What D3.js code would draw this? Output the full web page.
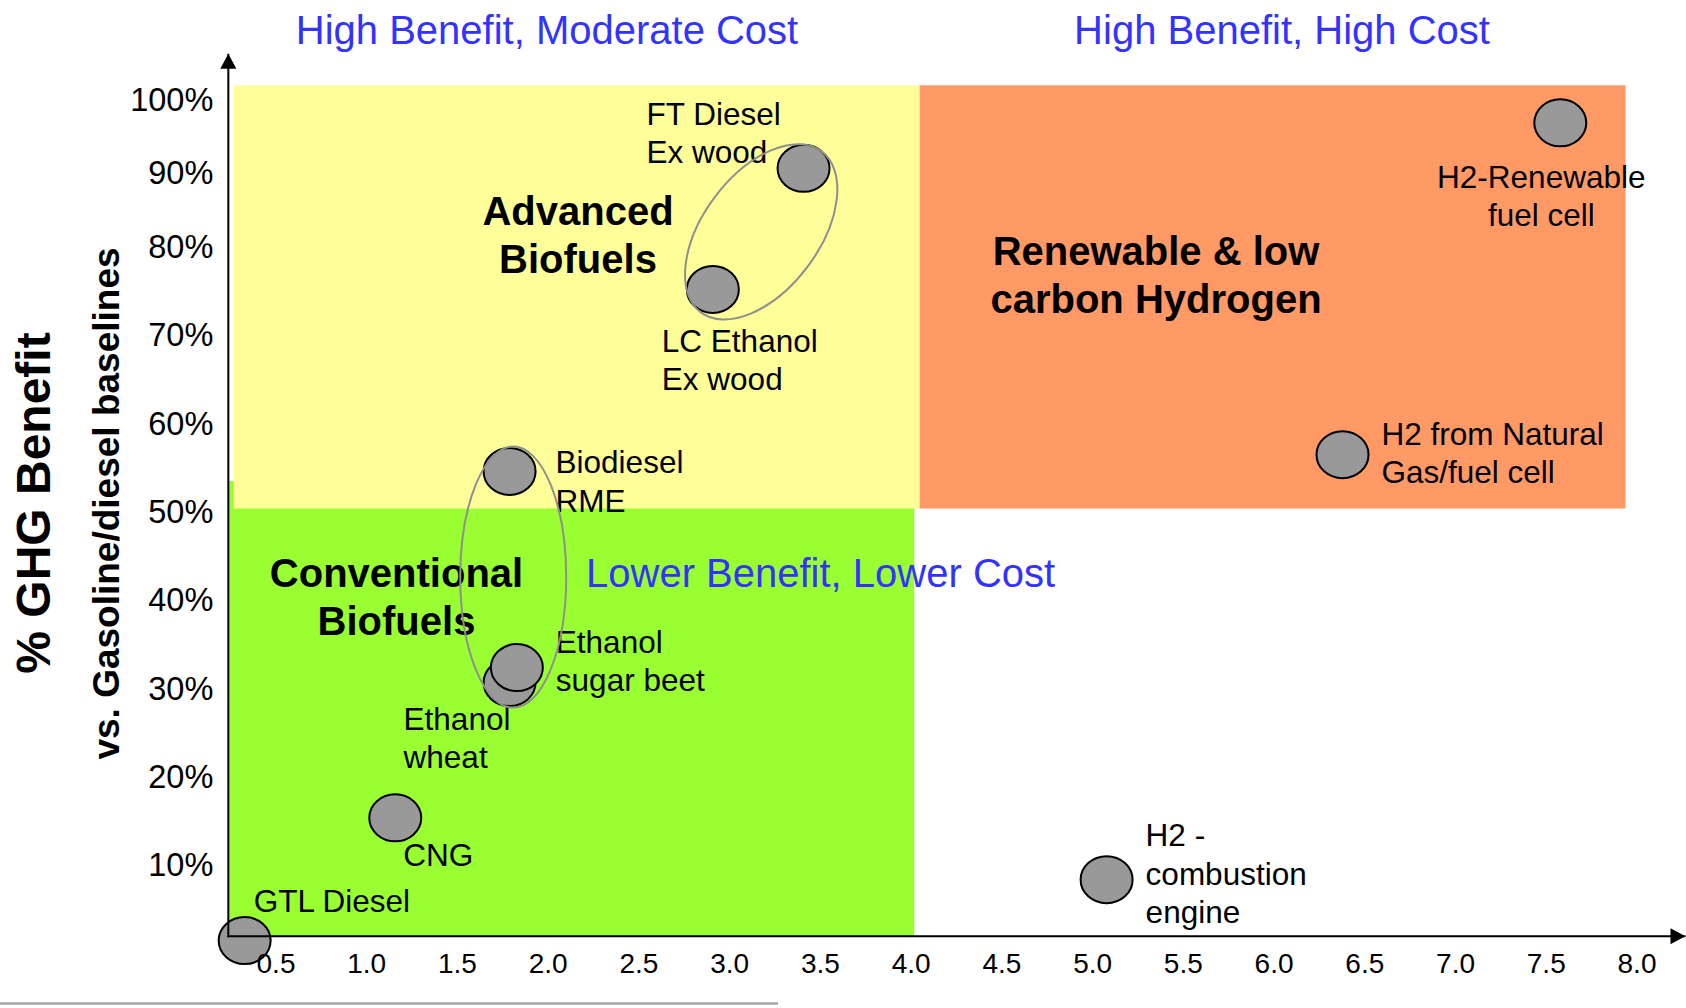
<!DOCTYPE html>
<html>
<head>
<meta charset="utf-8">
<script src="https://cdn.jsdelivr.net/npm/d3@7"></script>
<style>
  html, body { margin: 0; padding: 0; background: #fff; }
  svg { display: block; font-family: "Liberation Sans", Arial, Helvetica, sans-serif; }
</style>
</head>
<body>
<svg id="chart" width="1686" height="1008"></svg>
<script>
// ---- Fuel pathways: relative cost (x) against GHG benefit vs. gasoline/diesel (y) ----
const fuels = [
  "GTL Diesel", "CNG", "Ethanol wheat", "Ethanol sugar beet", "Biodiesel RME",
  "LC Ethanol Ex wood", "FT Diesel Ex wood", "H2 - combustion engine",
  "H2 from Natural Gas/fuel cell", "H2-Renewable fuel cell"
];
const costIndex  = [0.33, 1.16, 1.79, 1.83, 1.79, 2.91, 3.41, 5.08, 6.38, 7.58];
const ghgBenefit = [0.015, 0.154, 0.307, 0.324, 0.546, 0.752, 0.907, 0.084, 0.565, 0.969];
const fuelLabelLines = [
  ["GTL Diesel"], ["CNG"], ["Ethanol", "wheat"], ["Ethanol", "sugar beet"], ["Biodiesel", "RME"],
  ["LC Ethanol", "Ex wood"], ["FT Diesel", "Ex wood"], ["H2 -", "combustion", "engine"],
  ["H2 from Natural", "Gas/fuel cell"], ["H2-Renewable", "fuel cell"]
];

// Axis ticks
const xTicks = [0.5, 1.0, 1.5, 2.0, 2.5, 3.0, 3.5, 4.0, 4.5, 5.0, 5.5, 6.0, 6.5, 7.0, 7.5, 8.0];
const yTicks = [0.1, 0.2, 0.3, 0.4, 0.5, 0.6, 0.7, 0.8, 0.9, 1.0];

// Shaded zones, in data units (cost range, benefit range)
const zoneNames      = ["Conventional Biofuels", "Advanced Biofuels", "Renewable & low carbon Hydrogen"];
const zoneTitleLines = [["Conventional", "Biofuels"], ["Advanced", "Biofuels"], ["Renewable & low", "carbon Hydrogen"]];
const zoneCost       = [[0.24, 4.02], [0.27, 4.05], [4.05, 7.94]];
const zoneBenefit    = [[0.02, 0.535], [0.504, 1.02], [0.504, 1.02]];

// Pathways circled together
const groupMembers = [
  ["LC Ethanol Ex wood", "FT Diesel Ex wood"],
  ["Ethanol wheat", "Ethanol sugar beet", "Biodiesel RME"]
];

const quadrantCaptions = ["High Benefit, Moderate Cost", "High Benefit, High Cost", "Lower Benefit, Lower Cost"];

// Axis extents (data units)
const axisOrigin = [0.24, 0.02];
const axisEnd = [8.27, 1.063];

// ---- Layout & style ----
const FONT = '"Liberation Sans", Arial, Helvetica, sans-serif';
const zoneFill = { "Conventional Biofuels": "#99FF33", "Advanced Biofuels": "#FFFF99", "Renewable & low carbon Hydrogen": "#FF9966" };
const zoneTitlePos = {
  "Conventional Biofuels": [396.5, 587.3],
  "Advanced Biofuels": [578, 225],
  "Renewable & low carbon Hydrogen": [1156, 265]
};
const captionPos = [
  { x: 547, y: 44, anchor: "middle" },
  { x: 1282, y: 44, anchor: "middle" },
  { x: 586, y: 587, anchor: "start" }
];
// label offset from the marker centre: [dx, dy of first baseline, anchor]
const labelOffset = {
  "GTL Diesel": [9, -28.5, "start"],
  "CNG": [8, 48.5, "start"],
  "Ethanol wheat": [-106, 47, "start"],
  "Ethanol sugar beet": [39, -15, "start"],
  "Biodiesel RME": [46, 2, "start"],
  "LC Ethanol Ex wood": [-51, 62.5, "start"],
  "FT Diesel Ex wood": [-157, -43.5, "start"],
  "H2 - combustion engine": [39, -33.5, "start"],
  "H2 from Natural Gas/fuel cell": [39, -10, "start"],
  "H2-Renewable fuel cell": [-19, 65, "middle"]
};
const groupMinor = [58, 53];
const groupNudge = [[3, 3], [0, 0]];
const groupPad = 25;

const svg = d3.select("#chart");

// Scales: the benefit axis labels are spaced more tightly above 80%
const x = d3.scaleLinear().domain([0.5, 8]).range([275.5, 1636.5]);
const y = d3.scaleLinear().domain([0.1, 0.8, 1.0]).range([865.5, 247, 100]);

// White background
svg.append("rect").attr("width", 1686).attr("height", 1008).attr("fill", "#fff");

// Zones
const zones = zoneNames.map((name, i) => ({ name, cost: zoneCost[i], benefit: zoneBenefit[i], lines: zoneTitleLines[i] }));
svg.append("g").selectAll("rect").data(zones).join("rect")
  .attr("x", d => x(d.cost[0]))
  .attr("y", d => y(d.benefit[1]))
  .attr("width", d => x(d.cost[1]) - x(d.cost[0]))
  .attr("height", d => y(d.benefit[0]) - y(d.benefit[1]))
  .attr("fill", d => zoneFill[d.name]);

// Zone titles
const zt = svg.append("g").selectAll("text").data(zones).join("text")
  .attr("x", d => zoneTitlePos[d.name][0])
  .attr("y", d => zoneTitlePos[d.name][1])
  .attr("text-anchor", "middle")
  .attr("font-family", FONT)
  .attr("font-weight", "bold")
  .attr("font-size", 40)
  .attr("fill", "#000");
zt.selectAll("tspan").data(d => d.lines.map(l => ({ l, x: zoneTitlePos[d.name][0] }))).join("tspan")
  .attr("x", d => d.x)
  .attr("dy", (d, i) => i === 0 ? 0 : 47.5)
  .text(d => d.l);

// Quadrant captions
svg.append("g").selectAll("text").data(quadrantCaptions).join("text")
  .attr("x", (d, i) => captionPos[i].x)
  .attr("y", (d, i) => captionPos[i].y)
  .attr("text-anchor", (d, i) => captionPos[i].anchor)
  .attr("font-family", FONT)
  .attr("font-size", 40)
  .attr("fill", "#3333FF")
  .text(d => d);

// Points
const points = fuels.map((name, i) => ({ name, cost: costIndex[i], benefit: ghgBenefit[i], lines: fuelLabelLines[i] }));

// Point labels
const pl = svg.append("g").selectAll("text").data(points).join("text")
  .attr("x", d => x(d.cost) + labelOffset[d.name][0])
  .attr("y", d => y(d.benefit) + labelOffset[d.name][1])
  .attr("text-anchor", d => labelOffset[d.name][2])
  .attr("font-family", FONT)
  .attr("font-size", 31.5)
  .attr("fill", "#000");
pl.selectAll("tspan").data(d => d.lines.map(l => ({ l, x: x(d.cost) + labelOffset[d.name][0] }))).join("tspan")
  .attr("x", d => d.x)
  .attr("dy", (d, i) => i === 0 ? 0 : 38.5)
  .text(d => d.l);

// Markers
svg.append("g").selectAll("ellipse").data(points).join("ellipse")
  .attr("cx", d => x(d.cost))
  .attr("cy", d => y(d.benefit))
  .attr("rx", 26)
  .attr("ry", 23.5)
  .attr("fill", "#999999")
  .attr("stroke", "#000")
  .attr("stroke-width", 2);

// Group outlines around related pathways: long axis runs from the lowest to the highest member
const byName = new Map(points.map(p => [p.name, p]));
const groups = groupMembers.map((members, i) => {
  const pts = members.map(n => byName.get(n)).map(p => [x(p.cost), y(p.benefit)]);
  const low = pts.reduce((m, p) => p[1] > m[1] ? p : m);
  const high = pts.reduce((m, p) => p[1] < m[1] ? p : m);
  const cx = (d3.min(pts, p => p[0]) + d3.max(pts, p => p[0])) / 2 + groupNudge[i][0];
  const cy = (low[1] + high[1]) / 2 + groupNudge[i][1];
  const half = Math.hypot(high[0] - low[0], high[1] - low[1]) / 2;
  const angle = Math.atan2(high[0] - low[0], low[1] - high[1]) * 180 / Math.PI;
  return { cx, cy, ry: half + groupPad, rx: groupMinor[i], angle };
});
svg.append("g").selectAll("ellipse").data(groups).join("ellipse")
  .attr("transform", d => `translate(${d.cx},${d.cy}) rotate(${d.angle})`)
  .attr("rx", d => d.rx)
  .attr("ry", d => d.ry)
  .attr("fill", "none")
  .attr("stroke", "#8f8f8f")
  .attr("stroke-width", 2);

// Axes
const defs = svg.append("defs");
defs.append("marker")
  .attr("id", "arrow")
  .attr("viewBox", "0 0 15 16")
  .attr("refX", 15).attr("refY", 8)
  .attr("markerWidth", 15).attr("markerHeight", 16)
  .attr("markerUnits", "userSpaceOnUse")
  .attr("orient", "auto")
  .append("path").attr("d", "M0,0 L15,8 L0,16 Z").attr("fill", "#000");

const ox = x(axisOrigin[0]), oy = y(axisOrigin[1]);

const xAxis = svg.append("g")
  .attr("transform", `translate(0,${oy})`)
  .call(d3.axisBottom(x).tickValues(xTicks).tickFormat(d3.format(".1f")).tickSize(0).tickPadding(16.5));
xAxis.select(".domain").remove();
xAxis.attr("font-family", FONT).attr("font-size", 28);
xAxis.selectAll("text").attr("fill", "#000");

const yAxis = svg.append("g")
  .attr("transform", `translate(${ox},0)`)
  .call(d3.axisLeft(y).tickValues(yTicks).tickFormat(d3.format(".0%")).tickSize(0).tickPadding(15));
yAxis.select(".domain").remove();
yAxis.attr("font-family", FONT).attr("font-size", 32.5);
yAxis.selectAll("text").attr("fill", "#000");

svg.append("line")
  .attr("x1", ox - 1).attr("y1", oy).attr("x2", x(axisEnd[0])).attr("y2", oy)
  .attr("stroke", "#000").attr("stroke-width", 2).attr("marker-end", "url(#arrow)");
svg.append("line")
  .attr("x1", ox).attr("y1", oy + 1).attr("x2", ox).attr("y2", y(axisEnd[1]))
  .attr("stroke", "#000").attr("stroke-width", 2).attr("marker-end", "url(#arrow)");

// Axis titles
svg.append("text")
  .attr("transform", "translate(50,503) rotate(-90)")
  .attr("text-anchor", "middle")
  .attr("font-family", FONT).attr("font-weight", "bold").attr("font-size", 48)
  .attr("fill", "#000")
  .text("% GHG Benefit");
svg.append("text")
  .attr("transform", "translate(119,503.5) rotate(-90)")
  .attr("text-anchor", "middle")
  .attr("font-family", FONT).attr("font-weight", "bold").attr("font-size", 37)
  .attr("fill", "#000")
  .text("vs. Gasoline/diesel baselines");

// Edge of the panel below
svg.append("line")
  .attr("x1", 0).attr("y1", 1003.5).attr("x2", 778).attr("y2", 1003.5)
  .attr("stroke", "#a6a6a6").attr("stroke-width", 2.5);
</script>
</body>
</html>
